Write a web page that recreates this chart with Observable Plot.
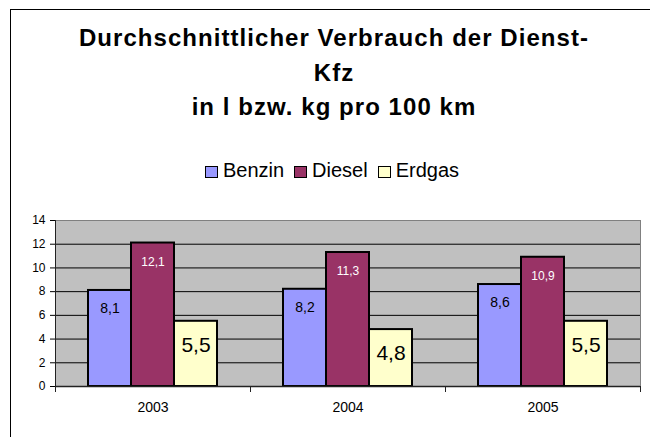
<!DOCTYPE html>
<html>
<head>
<meta charset="utf-8">
<script src="https://cdn.jsdelivr.net/npm/d3@7"></script>
<script src="https://cdn.jsdelivr.net/npm/@observablehq/plot@0.6"></script>
<style>
  body { margin: 0; background: #fff; }
  #wrap { position: relative; width: 650px; height: 437px; overflow: hidden; background: #fff;
          font-family: "Liberation Sans", Arial, sans-serif; color: #000; }
  #border { position: absolute; left: 10px; top: 9px; width: 700px; height: 500px; border: 1px solid #000; }
  #title { position: absolute; left: 0; top: 21px; width: 668px; text-align: center; font-weight: bold;
           font-size: 24px; line-height: 34.5px; letter-spacing: 1.05px; }
  #legend { position: absolute; left: 0; top: 158px; width: 664px; text-align: center; font-size: 20px; line-height: 24px; }
  .item { display: inline-block; margin: 0 5px; }
  .sw { display: inline-block; width: 11px; height: 10px; border: 1.5px solid #000; margin-right: 5px; vertical-align: -1px; }
  #chart { position: absolute; left: 0; top: 200px; }
</style>
</head>
<body>
<div id="wrap">
  <div id="border"></div>
  <div id="title"></div>
  <div id="legend"></div>
  <div id="chart"></div>
</div>
<script>
const titleLines = ["Durchschnittlicher Verbrauch der Dienst-", "Kfz", "in l bzw. kg pro 100 km"];
const years = ["2003", "2004", "2005"];
const series = ["Benzin", "Diesel", "Erdgas"];
const benzin = [8.1, 8.2, 8.6];
const diesel = [12.1, 11.3, 10.9];
const erdgas = [5.5, 4.8, 5.5];
const colors = ["#9999FF", "#993366", "#FFFFCC"];
const yTicks = [0, 2, 4, 6, 8, 10, 12, 14];

const values = {Benzin: benzin, Diesel: diesel, Erdgas: erdgas};
const data = [];
years.forEach((year, i) => series.forEach(s => data.push({year, series: s, value: values[s][i]})));

document.getElementById("title").innerHTML = titleLines.join("<br>");
document.getElementById("legend").innerHTML = series.map((s, i) =>
  `<span class="item"><span class="sw" style="background:${colors[i]}"></span>${s}</span>`).join("");

const fmt = v => v.toFixed(1).replace(".", ",");
const W = 650, H = 237, mT = 20, mB = 51, mL = 55, mR = 10;
const innerH = H - mT - mB;

const labelStyle = {
  Benzin: {fill: "#000", fontSize: 14, dy: 18},
  Diesel: {fill: "#fff", fontSize: 12, dy: 19},
  Erdgas: {fill: "#000", fontSize: 21, dy: 24}
};

const chart = Plot.plot({
  width: W, height: H,
  marginTop: mT, marginBottom: mB, marginLeft: mL, marginRight: mR,
  style: {fontFamily: "'Liberation Sans', Arial, sans-serif", color: "#000", background: "transparent", overflow: "visible"},
  fx: {domain: years, padding: 0},
  x: {domain: series, paddingInner: 0, paddingOuter: 0.716, axis: null},
  y: {domain: [0, 14]},
  color: {domain: series, range: colors},
  marks: [
    Plot.frame({fill: "#C0C0C0", stroke: "none", facet: "super"}),
    Plot.ruleY(yTicks.slice(1, -1), {stroke: "#000", strokeWidth: 1}),
    Plot.ruleY([14], {stroke: "#808080"}),
    Plot.frame({anchor: "left", fx: years[0], stroke: "#222"}),
    Plot.frame({anchor: "right", fx: years[years.length - 1], stroke: "#808080"}),
    Plot.frame({anchor: "left", insetTop: innerH, insetBottom: -5, stroke: "#222"}),
    Plot.frame({anchor: "right", insetTop: innerH, insetBottom: -5, stroke: "#222"}),
    Plot.barY(data, {fx: "year", x: "series", y: "value", fill: "series", stroke: "#000", strokeWidth: 2}),
    Plot.ruleY([0], {stroke: "#222", strokeWidth: 1.5}),
    ...series.map(s => Plot.text(data.filter(d => d.series === s), {
      fx: "year", x: "series", y: "value", text: d => fmt(d.value), ...labelStyle[s]
    })),
    Plot.axisY({ticks: yTicks, tickSize: 5, tickPadding: 5, fontSize: 12, label: null, tickFormat: d => d}),
    Plot.axisFx({anchor: "bottom", tickSize: 0, tickPadding: 16, fontSize: 14, label: null})
  ]
});
document.getElementById("chart").appendChild(chart);
</script>
</body>
</html>
